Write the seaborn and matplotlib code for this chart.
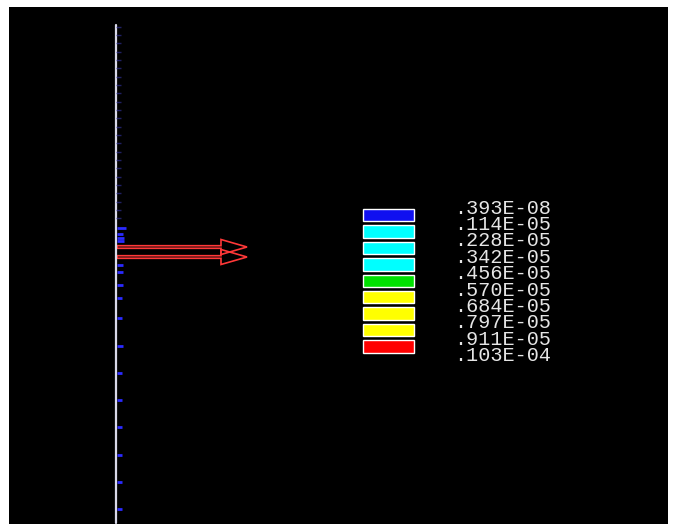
import matplotlib
matplotlib.use("Agg")
import matplotlib.pyplot as plt
import seaborn as sns
from matplotlib.patches import Rectangle, FancyArrow

# beam nodes (screen rows, top to bottom)
beam_x = 116
beam_top, beam_bottom = 25, 523
fine_nodes = [27, 35, 43, 52, 60, 68, 77, 85, 93, 102, 110, 118, 127, 135,
              143, 152, 160, 168, 177, 185, 193, 202, 210, 218]
main_nodes = [228, 234, 238, 241, 265, 272, 285, 298, 318, 346, 373, 400,
              427, 455, 482, 509]
main_tick_len = [10, 7, 8, 8, 7, 7, 7, 6, 6, 7, 6, 6, 6, 6, 6, 6]

# applied forces
force_rows = [247, 257]
force_length = 130

# contour legend
legend_values = [".393E-08", ".114E-05", ".228E-05", ".342E-05", ".456E-05",
                 ".570E-05", ".684E-05", ".797E-05", ".911E-05", ".103E-04"]
legend_colors = ["#1010f0", "#00ffff", "#00ffff", "#00ffff", "#00e000",
                 "#ffff00", "#ffff00", "#ffff00", "#ff0000"]

sns.set_theme(style="dark", rc={"axes.facecolor": "black",
                                "figure.facecolor": "white"})

fig = plt.figure(figsize=(6.76, 5.28), dpi=100)
ax = fig.add_axes([9 / 676, 4 / 528, 659 / 676, 517 / 528])
ax.set_xlim(9, 668)
ax.set_ylim(524, 7)
ax.set_xticks([])
ax.set_yticks([])
ax.grid(False)
for s in ax.spines.values():
    s.set_visible(False)

# beam
sns.lineplot(x=[beam_x, beam_x], y=[beam_top, beam_bottom], ax=ax,
             color="#d8d8e8", lw=1.6, sort=False, estimator=None)

# node marks
ax.hlines(fine_nodes, beam_x, beam_x + 5, color="#2e2e90", lw=1.0, alpha=0.7)
for y, ln in zip(main_nodes, main_tick_len):
    ax.hlines(y, beam_x + 1, beam_x + ln, color="#2a2aff", lw=2.0)

# force arrows (outlined)
for y in force_rows:
    ax.add_patch(FancyArrow(beam_x + 1, y, force_length, 0, width=2.6,
                            head_width=15, head_length=26,
                            length_includes_head=True, fill=False,
                            ec="#ff3838", lw=1.2))

# legend
row_y0, row_step = 207, 16.4
box_x, box_w, box_h = 363, 51, 12.5
for i, c in enumerate(legend_colors):
    yc = row_y0 + row_step * (i + 0.5)
    ax.add_patch(Rectangle((box_x, yc - box_h / 2), box_w, box_h,
                           facecolor=c, edgecolor="white", lw=1.0))
for i, v in enumerate(legend_values):
    ax.text(454, row_y0 + row_step * i + 1, v, color="#e6e6e6",
            fontsize=14.5, family=["Liberation Mono", "DejaVu Sans Mono"],
            ha="left", va="center")

fig.savefig("out.png", dpi=100, facecolor="white")
